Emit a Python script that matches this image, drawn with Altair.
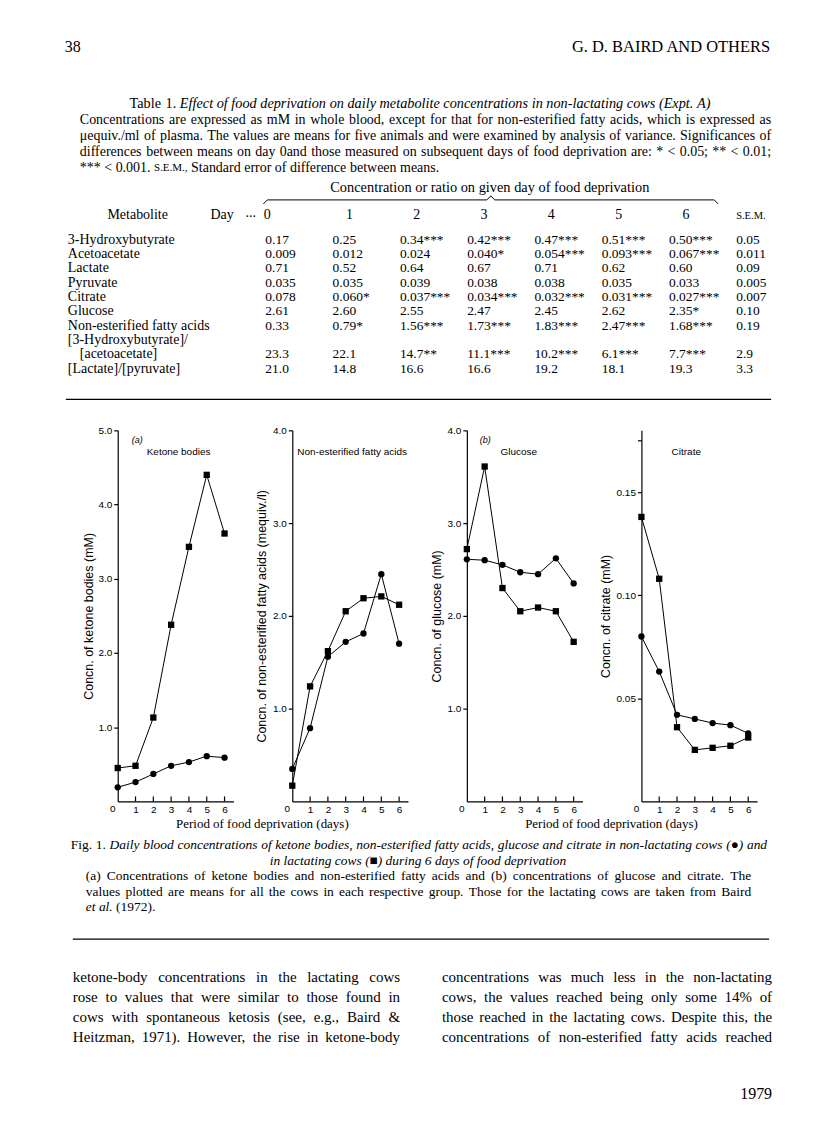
import altair as alt
import pandas as pd

SERIF = "Liberation Serif"
SANS = "Liberation Sans"

# ---------------- figure data ----------------
days = [0, 1, 2, 3, 4, 5, 6]
ketone_nonlact = [0.19, 0.26, 0.37, 0.48, 0.53, 0.61, 0.59]
ketone_lact = [0.45, 0.48, 1.13, 2.38, 3.43, 4.40, 3.61]
nefa_nonlact = [0.35, 0.79, 1.56, 1.72, 1.81, 2.45, 1.70]
nefa_lact = [0.17, 1.24, 1.62, 2.05, 2.19, 2.21, 2.12]
glucose_nonlact = [2.61, 2.60, 2.55, 2.47, 2.45, 2.62, 2.35]
glucose_lact = [2.72, 3.61, 2.30, 2.05, 2.09, 2.05, 1.72]
citrate_nonlact = [0.080, 0.063, 0.042, 0.040, 0.038, 0.037, 0.033]
citrate_lact = [0.138, 0.108, 0.036, 0.025, 0.026, 0.027, 0.031]

# ---------------- table data ----------------
table_days = ["0", "1", "2", "3", "4", "5", "6"]
metabolites = ["3-Hydroxybutyrate", "Acetoacetate", "Lactate", "Pyruvate", "Citrate",
               "Glucose", "Non-esterified fatty acids", "[3-Hydroxybutyrate]/",
               "[acetoacetate]", "[Lactate]/[pyruvate]"]
row_hb = ["0.17", "0.25", "0.34***", "0.42***", "0.47***", "0.51***", "0.50***", "0.05"]
row_acac = ["0.009", "0.012", "0.024", "0.040*", "0.054***", "0.093***", "0.067***", "0.011"]
row_lact = ["0.71", "0.52", "0.64", "0.67", "0.71", "0.62", "0.60", "0.09"]
row_pyr = ["0.035", "0.035", "0.039", "0.038", "0.038", "0.035", "0.033", "0.005"]
row_cit = ["0.078", "0.060*", "0.037***", "0.034***", "0.032***", "0.031***", "0.027***", "0.007"]
row_glc = ["2.61", "2.60", "2.55", "2.47", "2.45", "2.62", "2.35*", "0.10"]
row_nefa = ["0.33", "0.79*", "1.56***", "1.73***", "1.83***", "2.47***", "1.68***", "0.19"]
row_hb_acac = ["23.3", "22.1", "14.7**", "11.1***", "10.2***", "6.1***", "7.7***", "2.9"]
row_lac_pyr = ["21.0", "14.8", "16.6", "16.6", "19.2", "18.1", "19.3", "3.3"]

table_title = "Effect of food deprivation on daily metabolite concentrations in non-lactating cows (Expt. A)"
caption_lines = [
    "Concentrations are expressed as mM in whole blood, except for that for non-esterified fatty acids, which is expressed as",
    "\u03bcequiv./ml of plasma. The values are means for five animals and were examined by analysis of variance. Significances of",
    "differences between means on day 0and those measured on subsequent days of food deprivation are: * < 0.05; ** < 0.01;",
    "*** < 0.001. S.E.M., Standard error of difference between means.",
]
fig_caption_1 = "Daily blood concentrations of ketone bodies, non-esterified fatty acids, glucose and citrate in non-lactating cows (\u25cf) and"
fig_caption_2 = "in lactating cows (\u25a0) during 6 days of food deprivation"
fig_caption_3 = "(a) Concentrations of ketone bodies and non-esterified fatty acids and (b) concentrations of glucose and citrate. The"
fig_caption_4 = "values plotted are means for all the cows in each respective group. Those for the lactating cows are taken from Baird"
body_col1 = [
    "ketone-body concentrations in the lactating cows",
    "rose to values that were similar to those found in",
    "cows with spontaneous ketosis (see, e.g., Baird &",
    "Heitzman, 1971). However, the rise in ketone-body",
]
body_col2 = [
    "concentrations was much less in the non-lactating",
    "cows, the values reached being only some 14% of",
    "those reached in the lactating cows. Despite this, the",
    "concentrations of non-esterified fatty acids reached",
]

# ---------------- text metrics (Times / Liberation Serif, per 1000 em) ----------------
_ROMAN = dict(zip("abcdefghijklmnopqrstuvwxyz",
                  [444, 500, 444, 500, 444, 333, 500, 500, 278, 278, 500, 278, 778, 500, 500, 500, 500,
                   333, 389, 278, 500, 500, 722, 500, 500, 444]))
_ROMAN.update(dict(zip("ABCDEFGHIJKLMNOPQRSTUVWXYZ",
                       [722, 667, 667, 722, 611, 556, 722, 722, 333, 389, 722, 611, 889, 722, 722, 556, 722,
                        667, 556, 611, 722, 722, 944, 722, 722, 611])))
_ROMAN.update({" ": 250, ".": 250, ",": 250, ":": 278, ";": 278, "-": 333, "(": 333, ")": 333, "[": 333,
               "]": 333, "/": 278, "*": 500, "<": 564, "&": 778, "%": 833, "\u03bc": 500, "\u25cf": 600,
               "\u25a0": 600})
for _d in "0123456789":
    _ROMAN[_d] = 500
_ITAL = dict(_ROMAN)
_ITAL.update(dict(zip("abcdefghijklmnopqrstuvwxyz",
                      [500, 500, 444, 500, 444, 278, 500, 500, 278, 278, 444, 278, 722, 500, 500, 500, 500,
                       389, 389, 278, 500, 444, 667, 444, 444, 389])))
_ITAL.update(dict(zip("ABCDEFGHIJKLMNOPQRSTUVWXYZ",
                      [611, 611, 667, 722, 611, 611, 722, 722, 333, 444, 667, 556, 833, 667, 722, 611, 722,
                       611, 500, 556, 722, 611, 833, 611, 556, 556])))
_ITAL.update({":": 333, ";": 333})


def measure(s, italic=False):
    tab = _ITAL if italic else _ROMAN
    return sum(tab.get(c, 500) for c in s) / 1000.0


def set_line(words, left, y, size, right=None):
    """words: list of (word, italic[, size]). Returns records with x positions (justified if right given)."""
    ws = [(w[0], w[1], w[2] if len(w) > 2 else size) for w in words]
    widths = [measure(w, it) * sz for w, it, sz in ws]
    space = 0.25 * size
    if right is not None and len(ws) > 1:
        gap = (right - left - sum(widths)) / (len(ws) - 1)
        if gap < 0.6 * space:
            gap = space
    else:
        gap = space
    out, x = [], left
    for (w, it, sz), wd in zip(ws, widths):
        out.append({"t": w, "x": x, "y": y, "italic": it, "size": sz})
        x += wd + gap
    return out


def words_of(s, italic=False):
    return [(w, italic) for w in s.split(" ")]


def text_layers(records):
    df = pd.DataFrame(records)
    layers = []
    for (it, size), g in df.groupby(["italic", "size"]):
        layers.append(alt.Chart(g.reset_index(drop=True)).mark_text(
            font=SERIF, fontSize=float(size), fontStyle="italic" if it else "normal", align="left",
            baseline="middle", color="black").encode(
            x=alt.X("x:Q", scale=None, axis=None), y=alt.Y("y:Q", scale=None, axis=None), text="t:N"))
    return layers


# ---------------- helpers ----------------
_one = pd.DataFrame({"k": [0]})


def txt(s, x, y, size=13, align="left", style="normal", font=SERIF, base="middle"):
    return alt.Chart(_one).mark_text(
        text=s, font=font, fontSize=size, fontStyle=style, align=align,
        baseline=base, color="black"
    ).encode(x=alt.value(x), y=alt.value(y))


def rule(x1, y1, x2, y2, w=1.0):
    return alt.Chart(_one).mark_rule(color="black", strokeWidth=w).encode(
        x=alt.value(x1), y=alt.value(y1), x2=alt.value(x2), y2=alt.value(y2))


def frame(x1, y1, x2, y2):
    return alt.Chart(_one).mark_rect(opacity=0).encode(
        x=alt.value(x1), x2=alt.value(x2), y=alt.value(y1), y2=alt.value(y2))


# ---------------- top block: header + table (local = page - 8) ----------------
HT = 409
top_layers = [frame(0, 0, 800, HT)]
top_layers.append(txt("38", 56, 37, size=16))
top_layers.append(txt("G. D. BAIRD AND OTHERS", 763, 37, size=16.5, align="right"))

recs = []
TS = 14.3
tw = measure("Table 1. ") * TS + measure(table_title, True) * TS
tl = 412 - tw / 2
recs += set_line([("Table", False), ("1.", False)], tl, 94, TS)
recs += set_line(words_of(table_title, True), tl + measure("Table 1. ") * TS, 94, TS)
for i, line in enumerate(caption_lines[:3]):
    recs += set_line(words_of(line), 71, 110 + 16 * i, 14, right=764)
last = [(w, False, 11 if w == "S.E.M.," else 14) for w in caption_lines[3].split(" ")]
recs += set_line(last, 71, 158, 14)
top_layers += text_layers(recs)

top_layers.append(txt("Concentration or ratio on given day of food deprivation", 482, 178, size=14.4, align="center"))
# brace
top_layers += [
    rule(255, 194, 259, 190), rule(259, 190, 479, 190), rule(479, 190, 483, 186),
    rule(483, 186, 487, 190), rule(487, 190, 707, 190), rule(707, 190, 711, 194),
]
top_layers.append(txt("Metabolite", 129, 205, size=14, align="center"))
top_layers.append(txt("Day", 202, 205, size=14))
top_layers.append(txt("...", 237, 203, size=14))

COL0, COL7 = 257, 729
ROW0, ROW9 = 230, 230 + 9 * 14.35
xcol = alt.X("col:Q", scale=alt.Scale(domain=[0, 7], range=[COL0, COL7]), axis=None)
yrow = alt.Y("row:Q", scale=alt.Scale(domain=[0, 9], range=[ROW0, ROW9]), axis=None)

hdr = pd.DataFrame({"col": list(range(7)), "label": table_days})
top_layers.append(alt.Chart(hdr[hdr["col"] == 0]).mark_text(
    font=SERIF, fontSize=14, align="center", baseline="middle", color="black", dx=2).encode(
    x=xcol, y=alt.value(205), text="label:N"))
top_layers.append(alt.Chart(hdr[hdr["col"] > 0]).mark_text(
    font=SERIF, fontSize=14, align="center", baseline="middle", color="black", dx=17).encode(
    x=xcol, y=alt.value(205), text="label:N"))
top_layers.append(alt.Chart(pd.DataFrame({"col": [7], "label": ["S.E.M."]})).mark_text(
    font=SERIF, fontSize=10.5, align="left", baseline="middle", color="black").encode(
    x=xcol, y=alt.value(206), text="label:N"))

value_rows = [(0, row_hb), (1, row_acac), (2, row_lact), (3, row_pyr), (4, row_cit),
              (5, row_glc), (6, row_nefa), (8, row_hb_acac), (9, row_lac_pyr)]
trecs = []
for r, vals in value_rows:
    for c, v in enumerate(vals):
        trecs.append({"row": r, "col": c, "text": v})
tab = pd.DataFrame(trecs)
top_layers.append(alt.Chart(tab).mark_text(font=SERIF, fontSize=13.5, align="left", baseline="middle",
                                           color="black").encode(x=xcol, y=yrow, text="text:N"))
lab = pd.DataFrame({"row": list(range(len(metabolites))), "name": metabolites})
top_layers.append(alt.Chart(lab[lab["row"] != 8]).mark_text(
    font=SERIF, fontSize=14, align="left", baseline="middle", color="black").encode(
    x=alt.value(59), y=yrow, text="name:N"))
top_layers.append(alt.Chart(lab[lab["row"] == 8]).mark_text(
    font=SERIF, fontSize=14, align="left", baseline="middle", color="black").encode(
    x=alt.value(71), y=yrow, text="name:N"))
top_layers.append(rule(57, 390, 764, 390, w=1.2))

top = alt.layer(*top_layers).properties(width=800, height=HT)

# ---------------- figure panels ----------------
W, H = 116, 372
GAP = 59
SPACER = 50


def panel(nl, l, ymax, yticks, fmt, ytitle, title_dx, extras, label_expr=None):
    df = pd.DataFrame({"day": days * 2, "value": nl + l,
                       "group": ["non-lactating"] * len(days) + ["lactating"] * len(days)})
    xaxis = alt.Axis(values=days, format="d", title=None, grid=False, tickSize=0, labelPadding=3,
                     labelFontSize=10, labelFont=SANS, labelColor="black", domainColor="black",
                     domainWidth=1.2, labelFlush=False, labelOverlap=False,
                     labelExpr="datum.value == 0 ? '' : datum.label")
    yargs = dict(values=yticks, format=fmt, title=ytitle, grid=False, tickSize=4, tickWidth=1.2,
                 tickColor="black", labelPadding=2, labelFontSize=10, labelFont=SANS,
                 labelColor="black", titleFontSize=12.5, titleFontWeight="normal", titleFont=SANS,
                 titleColor="black", titleAngle=270, titleX=title_dx, titleY=H / 2,
                 titleAlign="center", titleBaseline="middle", domainColor="black", domainWidth=1.2,
                 labelOverlap=False)
    if label_expr:
        yargs["labelExpr"] = label_expr
    xenc = alt.X("day:Q", scale=alt.Scale(domain=[0, 6.05]), axis=xaxis)
    yenc = alt.Y("value:Q", scale=alt.Scale(domain=[0, ymax]), axis=alt.Axis(**yargs))
    base = alt.Chart(df)
    lines = base.mark_line(color="black", strokeWidth=1).encode(x=xenc, y=yenc, detail="group:N")
    pts = base.mark_point(filled=True, color="black", opacity=1, size=40).encode(
        x=alt.X("day:Q", axis=xaxis), y=alt.Y("value:Q", axis=alt.Axis(**yargs)),
        shape=alt.Shape("group:N", scale=alt.Scale(domain=["non-lactating", "lactating"],
                                                   range=["circle", "square"]), legend=None))
    ticks = alt.Chart(pd.DataFrame({"day": days[1:]})).mark_rule(color="black", strokeWidth=1.2).encode(
        x=alt.X("day:Q", axis=xaxis), y=alt.value(H), y2=alt.value(H - 5))
    zero = alt.Chart(pd.DataFrame({"day": [0], "lab": ["0"]})).mark_text(
        font=SANS, fontSize=10, align="center", baseline="top", color="black", dx=-5).encode(
        x=alt.X("day:Q", axis=xaxis), y=alt.value(H + 3), text="lab:N")
    return alt.layer(lines, pts, ticks, zero, *extras).properties(width=W, height=H)


spacer = alt.layer(frame(0, -10, SPACER, H + 32)).properties(width=SPACER, height=H)

pA = panel(ketone_nonlact, ketone_lact, 5, [1, 2, 3, 4, 5], ".1f", "Concn. of ketone bodies (mM)", -29,
           [txt("(a)", 14, 10, size=9, style="italic", font=SANS),
            txt("Ketone bodies", 61, 22, size=10, align="center", font=SANS),
            txt("Period of food deprivation (days)", 145, 395, size=13, align="center")])
pB = panel(nefa_nonlact, nefa_lact, 4, [1, 2, 3, 4], ".1f",
           "Concn. of non-esterified fatty acids (mequiv./l)", -31,
           [txt("Non-esterified fatty acids", 5, 22, size=10, font=SANS)])
pC = panel(glucose_nonlact, glucose_lact, 4, [1, 2, 3, 4], ".1f", "Concn. of glucose (mM)", -30,
           [txt("(b)", 13, 10, size=9, style="italic", font=SANS),
            txt("Glucose", 52, 22, size=10, align="center", font=SANS),
            txt("Period of food deprivation (days)", 145, 395, size=13, align="center")])
pD = panel(citrate_nonlact, citrate_lact, 0.175, [0.05, 0.10, 0.15, 0.175], ".2f",
           "Concn. of citrate (mM)", -36,
           [txt("Citrate", 45, 22, size=10, align="center", font=SANS)],
           label_expr="datum.value > 0.16 ? '' : format(datum.value, '.2f')")

figrow = alt.hconcat(spacer, pA, pB, pC, pD, spacing=GAP, bounds="flush")

# ---------------- bottom block: caption + body text (local y = page - 831) ----------------
HB = 290
bot_layers = [frame(0, 0, 800, HB)]
brecs = []
CS = 13.5
brecs += set_line([("Fig.", False), ("1.", False)] + words_of(fig_caption_1, True), 62, 10, CS, right=760)
w2 = measure(fig_caption_2, True) * CS
brecs += set_line(words_of(fig_caption_2, True), 410 - w2 / 2, 25.5, CS)
brecs += set_line(words_of(fig_caption_3), 77, 41, CS, right=744)
brecs += set_line(words_of(fig_caption_4), 77, 56.5, CS, right=744)
brecs += set_line([("et", True), ("al.", True), ("(1972).", False)], 77, 72, CS)
BS = 15
for i, line in enumerate(body_col1):
    brecs += set_line(words_of(line), 64, 142 + 20 * i, BS, right=392)
for i, line in enumerate(body_col2):
    brecs += set_line(words_of(line), 434, 142 + 20 * i, BS, right=765)
bot_layers += text_layers(brecs)
bot_layers.append(rule(64, 104, 762, 104, w=1.2))
bot_layers.append(txt("1979", 765, 259, size=16, align="right"))
bottom = alt.layer(*bot_layers).properties(width=800, height=HB)

chart = alt.vconcat(top, figrow, bottom, spacing=0).properties(padding=0).configure_view(
    stroke="transparent").configure_axis(labelFont=SANS, titleFont=SANS)

chart.save("out.html", embed_options={"renderer": "svg", "actions": False})
